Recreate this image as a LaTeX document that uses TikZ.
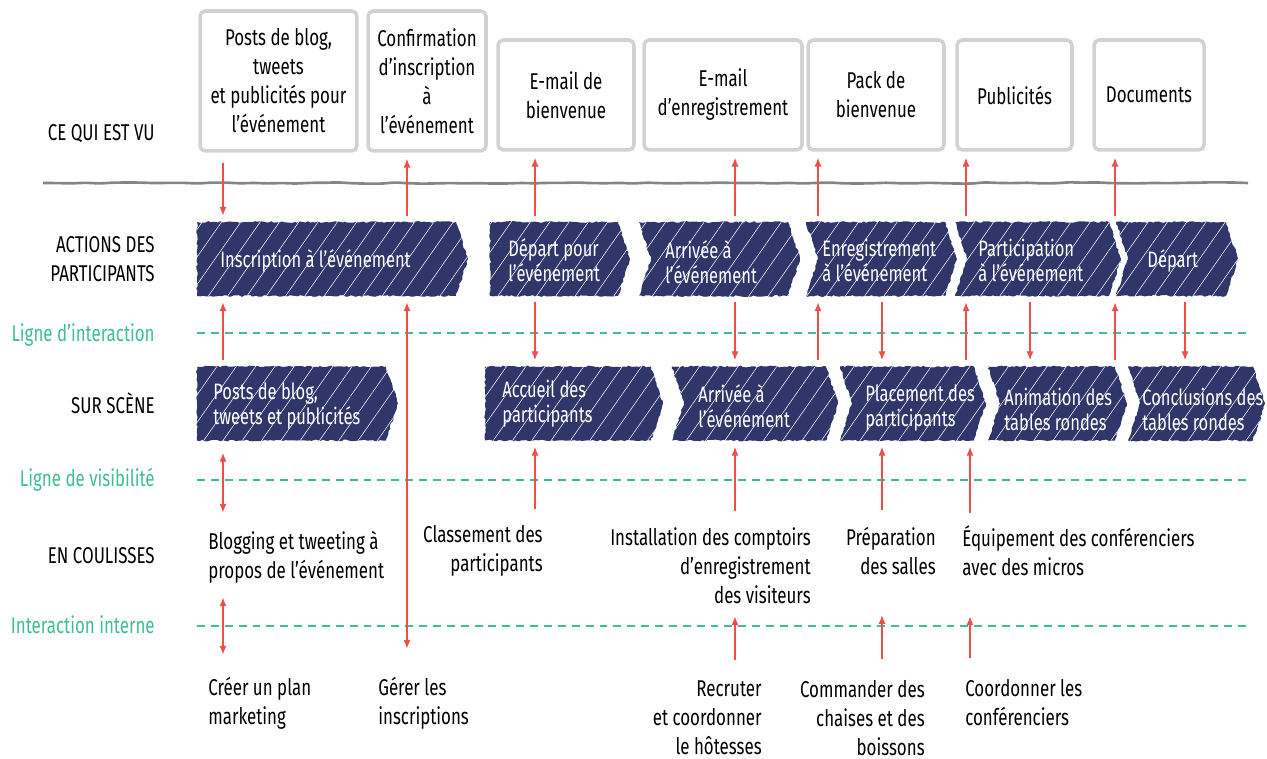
\documentclass[tikz,border=0pt]{standalone}
\usepackage{fontspec}
\setmainfont{Fira Sans}[FakeStretch=0.74]
\usetikzlibrary{arrows.meta,shapes.symbols,decorations.pathmorphing,patterns.meta}
\definecolor{chevblue}{HTML}{30356A}
\definecolor{lanegreen}{HTML}{3FBE96}
\definecolor{linkred}{HTML}{EE4F48}
\definecolor{boxgray}{HTML}{D2D2D2}
\definecolor{wavegray}{HTML}{858585}
\newcommand\handtxt{\fontsize{13}{16.5}\selectfont}
\newcommand\chevtxt{\fontsize{12.7}{14.2}\selectfont}
\begin{document}
\begin{tikzpicture}[x=0.02cm,y=-0.02cm,>={Latex[length=5pt,width=4pt]},
  seen/.style={draw=boxgray,line width=2pt,rounded corners=3pt,align=center,inner sep=0pt,font=\handtxt},
  chev/.style={signal,signal to=east,signal pointer angle=144,fill=chevblue,minimum height=1.48cm,inner sep=0pt,
    decorate,decoration={random steps,segment length=1.5pt,amplitude=0.5pt},
    postaction={pattern={Lines[angle=55,distance=9pt,line width=0.3pt]},pattern color=white,fill opacity=0.14}},
  notch/.style={chev,signal from=west},
  chevtext/.style={text=white,align=left,inner sep=0pt,font=\chevtxt,anchor=west},
  lane/.style={anchor=east,align=right,inner sep=0pt,font=\handtxt},
  note/.style={inner sep=0pt,font=\handtxt},
  sepline/.style={draw=lanegreen,line width=1.3pt,dash pattern=on 4.5pt off 3.4pt},
  link/.style={draw=linkred,line width=0.7pt,shorten <=0.12cm,shorten >=0.12cm}]
\useasboundingbox (0,0) rectangle (1267,759);

% lanes
\node[lane] (l1) at (155,134) {CE QUI EST VU};
\node[lane] (l2) at (155,259) {ACTIONS DES\\PARTICIPANTS};
\node[lane,text=lanegreen] (l3) at (155,335) {Ligne d'interaction};
\node[lane] (l4) at (155,403) {SUR SCÈNE};
\node[lane,text=lanegreen] (l5) at (155,480) {Ligne de visibilité};
\node[lane] (l6) at (155,556) {EN COULISSES};
\node[lane,text=lanegreen] (l7) at (155,625) {Interaction interne};

\draw[draw=wavegray,line width=1.5pt,decorate,decoration={random steps,segment length=8pt,amplitude=0.4pt},rounded corners=2pt] (43,183) -- (1248,183);
\draw[sepline] (197,333) -- (1248,333);
\draw[sepline] (197,480) -- (1248,480);
\draw[sepline] (197,626) -- (1248,626);

% what is seen
\node[seen,minimum width=3.14cm,minimum height=2.8cm] (v1) at (278.5,81) {Posts de blog,\\tweets\\et publicités pour\\l'événement};
\node[seen,minimum width=2.36cm,minimum height=2.8cm] (v2) at (427,81) {Confirmation\\d'inscription\\à\\l'événement};
\node[seen,minimum width=2.72cm,minimum height=2.2cm] (v3) at (566,95) {E-mail de\\bienvenue};
\node[seen,minimum width=3.16cm,minimum height=2.2cm] (v4) at (723,95) {E-mail\\d'enregistrement};
\node[seen,minimum width=2.72cm,minimum height=2.2cm] (v5) at (876,95) {Pack de\\bienvenue};
\node[seen,minimum width=2.3cm,minimum height=2.2cm] (v6) at (1014.5,95) {Publicités};
\node[seen,minimum width=2.2cm,minimum height=2.2cm] (v7) at (1149,95) {Documents};

% actions
\node[chev,text width=5.18cm] (a1) at (326.5,259) {};
\node[chev,text width=2.56cm] (a2) at (554,259) {};
\node[notch,text width=2.74cm] (a3) at (719.5,259) {};
\node[notch,text width=2.54cm] (a4) at (881.5,259) {};
\node[notch,text width=2.84cm] (a5) at (1038,259) {};
\node[notch,text width=1.96cm] (a6) at (1177,259) {};
\node[chevtext] (a1t) at (220,261) {Inscription à l'événement};
\node[chevtext] (a2t) at (508,260) {Départ pour\\l'événement};
\node[chevtext] (a3t) at (665,262) {Arrivée à\\l'événement};
\node[chevtext] (a4t) at (822,260) {Enregistrement\\à l'événement};
\node[chevtext] (a5t) at (978,260) {Participation\\à l'événement};
\node[chevtext] (a6t) at (1147,261) {Départ};

% on stage
\node[chev,text width=3.78cm] (s1) at (291.5,403.5) {};
\node[chev,text width=3.32cm] (s2) at (568,403.5) {};
\node[notch,text width=2.84cm] (s3) at (755,403.5) {};
\node[notch,text width=2.44cm] (s4) at (913,403.5) {};
\node[notch,text width=2.30cm] (s5) at (1057.5,403.5) {};
\node[notch,text width=2.26cm] (s6) at (1196.5,403.5) {};
\node[chevtext] (s1t) at (213,406) {Posts de blog,\\tweets et publicités};
\node[chevtext] (s2t) at (502,404) {Accueil des\\participants};
\node[chevtext] (s3t) at (698,406) {Arrivée à\\l'événement};
\node[chevtext] (s4t) at (865,408) {Placement des\\participants};
\node[chevtext] (s5t) at (1004,409) {Animation des\\tables rondes};
\node[chevtext] (s6t) at (1142,409) {Conclusions des\\tables rondes};

% backstage
\node[note,anchor=west,align=left] (c1) at (208,557) {Blogging et tweeting à\\propos de l'événement};
\node[note,anchor=east,align=right] (c2) at (543,551) {Classement des\\participants};
\node[note,anchor=east,align=right] (c3) at (811,566) {Installation des comptoirs\\d'enregistrement\\des visiteurs};
\node[note,anchor=east,align=right] (c4) at (936,551) {Préparation\\des salles};
\node[note,anchor=west,align=left] (c5) at (962,551) {Équipement des conférenciers\\avec des micros};
\node[note,anchor=west,align=left] (b1) at (208,703) {Créer un plan\\marketing};
\node[note,anchor=west,align=left] (b2) at (378,703) {Gérer les\\inscriptions};
\node[note,anchor=east,align=right] (b3) at (762,718) {Recruter\\et coordonner\\le hôtesses};
\node[note,anchor=east,align=right] (b4) at (925,718) {Commander des\\chaises et des\\boissons};
\node[note,anchor=west,align=left] (b5) at (965,703) {Coordonner les\\conférenciers};

% arrows
\draw[link,->,shorten <=0.2cm] (223,0 |- v1.south) -- (223,0 |- a1.north);
\foreach \x/\a/\b in {407/a1/v2,535/a2/v3,735/a3/v4,818/a4/v5,966/a5/v6,1115/a6/v7}
  \draw[link,->] (\x,0 |- \a.north) -- (\x,0 |- \b.south);
\foreach \x/\a/\b in {223/s1/a1,818/s3/a4,966/s4/a5,1115/s5/a6}
  \draw[link,->] (\x,0 |- \a.north) -- (\x,0 |- \b.south);
\foreach \x/\a/\b in {535/a2/s2,735/a3/s3,882/a4/s4,1030/a5/s5,1185/a6/s6}
  \draw[link,->] (\x,0 |- \a.south) -- (\x,0 |- \b.north);
\draw[link,<->,shorten >=0.56cm] (407,0 |- a1.south) -- (407,0 |- b2.north);
\draw[link,<->,shorten <=0.24cm,shorten >=0.36cm] (223,0 |- s1.south) -- (223,0 |- c1.north);
\foreach \x/\a/\b/\s in {535/c2/s2/0.32,735/c3/s3/0.34,882/c4/s4/0.34,970/c5/s4/0.26}
  \draw[link,->,shorten <=\s cm] (\x,0 |- \a.north) -- (\x,0 |- \b.south);
\draw[link,<->,shorten <=0.28cm,shorten >=0.44cm] (223,0 |- c1.south) -- (223,0 |- b1.north);
\foreach \x/\a/\b/\e in {735/b3/c3/0.24,882/b4/c4/0.8,970/b5/c5/0.8}
  \draw[link,->,shorten <=0.42cm,shorten >=\e cm] (\x,0 |- \a.north) -- (\x,0 |- \b.south);
\end{tikzpicture}
\end{document}
